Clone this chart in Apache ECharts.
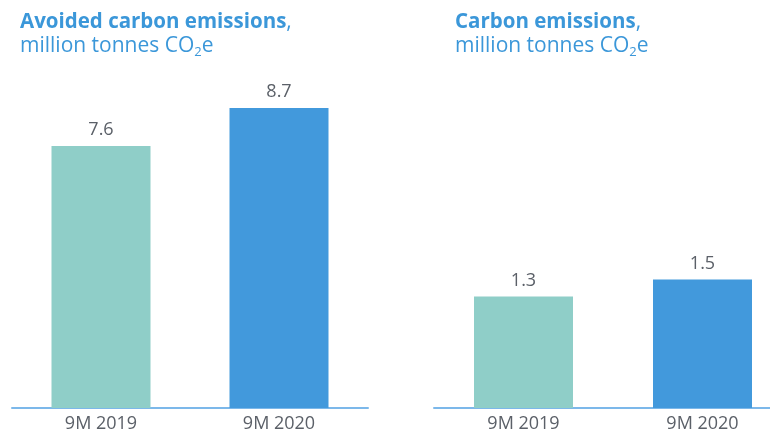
<!DOCTYPE html>
<html>
<head>
<meta charset="utf-8">
<script src="https://cdn.jsdelivr.net/npm/echarts@6/dist/echarts.min.js"></script>
<style>html,body{margin:0;padding:0;background:#fff;overflow:hidden;width:770px;height:433px}#c{width:800px;height:433px}</style>
</head>
<body>
<div id="c"></div>
<script>
const categories = ['9M 2019', '9M 2020'];
const avoidedValues = [7.6, 8.7];
const emissionsValues = [1.3, 1.5];
const barColors = ['#8fcec8', '#4299dc'];

const FONT = 'Open Sans';
const TITLE_BLUE = '#3b97d9';
const chart = echarts.init(document.getElementById('c'), null, {renderer: 'canvas'});

function titleRich() {
  return {
    b: {fontFamily: FONT, fontWeight: 'bold', fontSize: 20.5, color: TITLE_BLUE, lineHeight: 24},
    n: {fontFamily: FONT, fontWeight: 'normal', fontSize: 21, color: TITLE_BLUE, lineHeight: 24},
    s: {fontFamily: FONT, fontWeight: 'normal', fontSize: 13, color: TITLE_BLUE, lineHeight: 24, verticalAlign: 'bottom', padding: [0, 0, -1, 0]}
  };
}

const option = {
  animation: false,
  title: [
    {left: 20, top: 10, padding: 0, text: '{b|Avoided carbon emissions}{n|,}\n{n|million tonnes CO}{s|2}{n|e}', textStyle: {rich: titleRich()}},
    {left: 455, top: 10, padding: 0, text: '{b|Carbon emissions}{n|,}\n{n|million tonnes CO}{s|2}{n|e}', textStyle: {rich: titleRich()}}
  ],
  grid: [
    {left: 12, width: 356, top: 63.3, bottom: 25, containLabel: false},
    {left: 434, width: 358, top: 65.2, bottom: 25, containLabel: false}
  ],
  xAxis: [0, 1].map(i => ({
    type: 'category', gridIndex: i, data: categories,
    axisLine: {lineStyle: {color: '#7cb8ea', width: 2}},
    axisTick: {show: false},
    axisLabel: {color: '#5b6068', fontFamily: FONT, fontSize: 18, margin: 7}
  })),
  yAxis: [
    {type: 'value', gridIndex: 0, min: 0, max: 10, show: false, splitLine: {show: false}},
    {type: 'value', gridIndex: 1, min: 0, max: 4, show: false, splitLine: {show: false}}
  ],
  series: [
    {type: 'bar', xAxisIndex: 0, yAxisIndex: 0, barWidth: 99,
     data: avoidedValues.map((v, i) => ({value: v, itemStyle: {color: barColors[i]}})),
     label: {show: true, position: 'top', distance: 7, color: '#5b6068', fontFamily: FONT, fontSize: 18}},
    {type: 'bar', xAxisIndex: 1, yAxisIndex: 1, barWidth: 99,
     data: emissionsValues.map((v, i) => ({value: v, itemStyle: {color: barColors[i]}})),
     label: {show: true, position: 'top', distance: 7, color: '#5b6068', fontFamily: FONT, fontSize: 18}}
  ]
};
chart.setOption(option);
</script>
</body>
</html>
